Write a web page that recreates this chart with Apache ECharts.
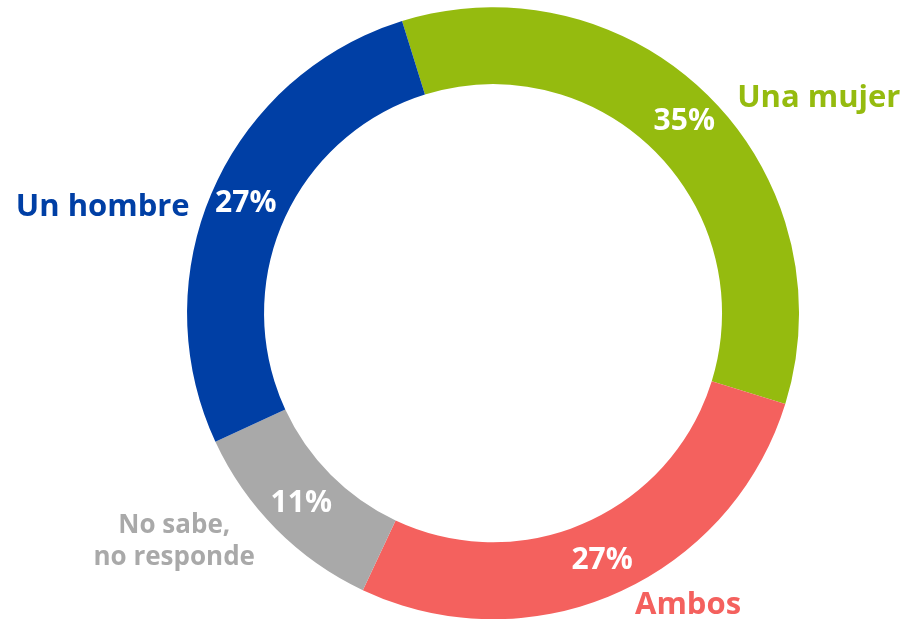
<!DOCTYPE html>
<html>
<head>
<meta charset="utf-8">
<script src="https://cdn.jsdelivr.net/npm/echarts@6/dist/echarts.min.js"></script>
<style>
  html, body { margin: 0; padding: 0; background: #fff; }
  #chart { width: 908px; height: 619px; }
</style>
</head>
<body>
<div id="chart"></div>
<script>
  // datos de la encuesta (el gráfico muestra los porcentajes redondeados)
  const categories = ['Una mujer', 'Ambos', 'No sabe,\nno responde', 'Un hombre'];
  const values = [34.6, 27.2, 11.1, 27.1];

  const colors = ['#95BB0F', '#F4615E', '#A9A9A9', '#003FA5'];
  // pequeños ajustes de posición de las etiquetas exteriores
  const nudges = [[2, 4], [-6, 8], [9, 10], [3, 20]];

  const chart = echarts.init(document.getElementById('chart'));

  const center = ['54.3%', '50.6%'];
  const radius = [229, 306];
  const font = 'Open Sans';

  chart.setOption({
    animation: false,
    textStyle: { fontFamily: font, fontWeight: 'bold' },
    series: [
      {
        // etiquetas de categoría, anillo invisible
        type: 'pie',
        silent: true,
        center: center,
        radius: radius,
        startAngle: 107.3,
        avoidLabelOverlap: false,
        itemStyle: { color: 'rgba(0,0,0,0)' },
        labelLine: { show: false, length: 4, length2: 18 },
        labelLayout: function (p) {
          const n = nudges[p.dataIndex];
          return { dx: n[0], dy: n[1] };
        },
        data: categories.map((c, i) => ({
          name: c,
          value: values[i],
          label: {
            show: true,
            position: 'outside',
            color: colors[i],
            fontFamily: font,
            fontWeight: 'bold',
            fontSize: 31,
            lineHeight: 32,
            formatter: i === 2 ? '{a|No sabe,}\n{a|no responde}' : '{b}',
            rich: {
              a: {
                width: 170, align: 'center', color: colors[i],
                fontFamily: font, fontWeight: 'bold', fontSize: 26, lineHeight: 32
              }
            }
          }
        }))
      },
      {
        type: 'pie',
        center: center,
        radius: radius,
        startAngle: 107.3,
        avoidLabelOverlap: false,
        label: {
          show: true,
          position: 'inside',
          formatter: p => Math.round(p.value) + '%',
          color: '#fff',
          fontFamily: font,
          fontWeight: 'bold',
          fontSize: 30
        },
        labelLine: { show: false },
        data: categories.map((c, i) => ({
          name: c,
          value: values[i],
          itemStyle: { color: colors[i] }
        }))
      }
    ]
  });
</script>
</body>
</html>
